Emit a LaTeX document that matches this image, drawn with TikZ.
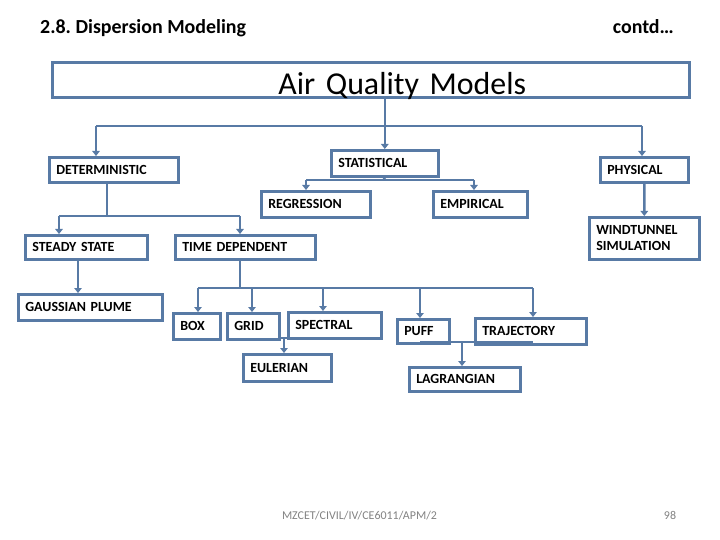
\documentclass[tikz,border=0pt]{standalone}
\usepackage{fontspec}
\setmainfont{Carlito}
\usetikzlibrary{arrows.meta}
\frenchspacing
\definecolor{bl}{RGB}{88,122,165}
\definecolor{ft}{RGB}{130,130,130}
\tikzset{
  box/.style={draw=bl, line width=2.6bp, inner xsep=7bp, inner ysep=0bp, align=left,
    font=\bfseries\fontsize{14}{16}\selectfont, fill=white},
  conn/.style={draw=bl, line width=2.5bp},
  arr/.style={conn, -{Triangle[width=7.5bp,length=5bp]}},
}
\newcommand\bx[6]{%
  \pgfmathsetmacro\bw{#4-#2-14}%
  \pgfmathsetmacro\bh{#5-#3}%
  \node[box, anchor=north west, text width=\bw bp, minimum height=\bh bp] (#1) at (#2,#3) {#6};}
\begin{document}
\begin{tikzpicture}[x=1bp,y=-1bp]
\useasboundingbox (0,0) rectangle (720,540);
% header
\node[anchor=base west, inner sep=0, font=\bfseries\fontsize{20}{24}\selectfont] (hdr) at (40,34) {2.8. Dispersion Modeling};
\node[anchor=base east, inner sep=0, font=\bfseries\fontsize{20}{24}\selectfont] (contd) at (674,34) {contd…};
% title
\node[draw=bl, line width=2.6bp, anchor=north west, inner sep=0, text width=637bp, align=left,
  text height=32bp, text depth=3bp, font=\fontsize{32}{36}\selectfont] (title) at (51,61) {\hspace*{226bp}Air Quality Models};
% junction coordinates
\coordinate (t1) at (96,126);
\coordinate (t2) at (642,126);
\coordinate (dj) at (107,216);
\coordinate (d1) at (59,216);
\coordinate (d2) at (240,216);
\coordinate (sj) at (383.5,180);
\coordinate (s1) at (306,180);
\coordinate (s2) at (474,180);
\coordinate (gx) at (78,0);
\coordinate (tdj) at (240,288);
\coordinate (m1) at (198,288);
\coordinate (m2) at (252,288);
\coordinate (m3) at (323,288);
\coordinate (m4) at (420,288);
\coordinate (m5) at (533,288);
\coordinate (e1) at (278,338);
\coordinate (e2) at (323,338);
\coordinate (ej) at (284,338);
\coordinate (l1) at (420,342);
\coordinate (l2) at (533,342);
\coordinate (lj) at (462,342);
% boxes
\bx{det}{48}{156}{177}{181}{DETERMINISTIC}
\bx{stat}{330}{149}{437}{175}{STATISTICAL}
\bx{phys}{599}{156}{687}{181}{PHYSICAL}
\bx{reg}{260}{190}{369}{216}{REGRESSION}
\bx{emp}{432}{190}{526}{216}{EMPIRICAL}
\bx{wind}{588}{216}{698}{258}{WINDTUNNEL\\SIMULATION}
\bx{steady}{24}{234}{146}{258}{STEADY STATE}
\bx{timedep}{174}{234}{314}{258}{TIME DEPENDENT}
\bx{gauss}{17}{293}{161}{319}{GAUSSIAN PLUME}
\bx{boxm}{172}{312}{219}{338}{BOX}
\bx{grid}{226}{312}{278}{338}{GRID}
\bx{spec}{287}{311}{380}{337}{SPECTRAL}
\bx{puff}{396}{318}{448}{342}{PUFF}
\bx{traj}{474}{317}{585}{343}{TRAJECTORY}
\bx{eul}{242}{353}{330}{380}{EULERIAN}
\bx{lag}{408}{366}{519}{390}{LAGRANGIAN}
% level 1
\draw[arr] (title.south -| stat.north) -- (stat.north);
\draw[conn] (t1) -- (t2);
\draw[arr] (t1) -- (t1 |- det.north);
\draw[arr] (t2) -- (t2 |- phys.north);
% deterministic
\draw[conn] (det.south -| dj) -- (dj);
\draw[conn] (d1) -- (d2);
\draw[arr] (d1) -- (d1 |- steady.north);
\draw[arr] (d2) -- (d2 |- timedep.north);
% statistical
\draw[conn] (stat.south) -- (sj);
\draw[conn] (s1) -- (s2);
\draw[arr] (s1) -- (s1 |- reg.north);
\draw[arr] (s2) -- (s2 |- emp.north);
% physical
\draw[arr] (phys.south) -- (wind.north);
% steady
\draw[arr] (steady.south -| gx) -- (gauss.north -| gx);
% time dependent
\draw[conn] (timedep.south -| tdj) -- (tdj);
\draw[conn] (m1) -- (m5);
\draw[arr] (m1) -- (m1 |- boxm.north);
\draw[arr] (m2) -- (m2 |- grid.north);
\draw[arr] (m3) -- (m3 |- spec.north);
\draw[arr] (m4) -- (m4 |- puff.north);
\draw[arr] (m5) -- (m5 |- traj.north);
% eulerian
\draw[conn] (e1) -- (e2);
\draw[arr] (ej) -- (ej |- eul.north);
% lagrangian
\draw[conn] (l1) -- (l2);
\draw[arr] (lj) -- (lj |- lag.north);
% footer
\node[text=ft, font=\fontsize{12}{14}\selectfont, inner sep=0, anchor=base] (foot) at (359.5,519) {MZCET/CIVIL/IV/CE6011/APM/2};
\node[text=ft, font=\fontsize{12}{14}\selectfont, inner sep=0, anchor=base] (page) at (670,519) {98};
\end{tikzpicture}
\end{document}
